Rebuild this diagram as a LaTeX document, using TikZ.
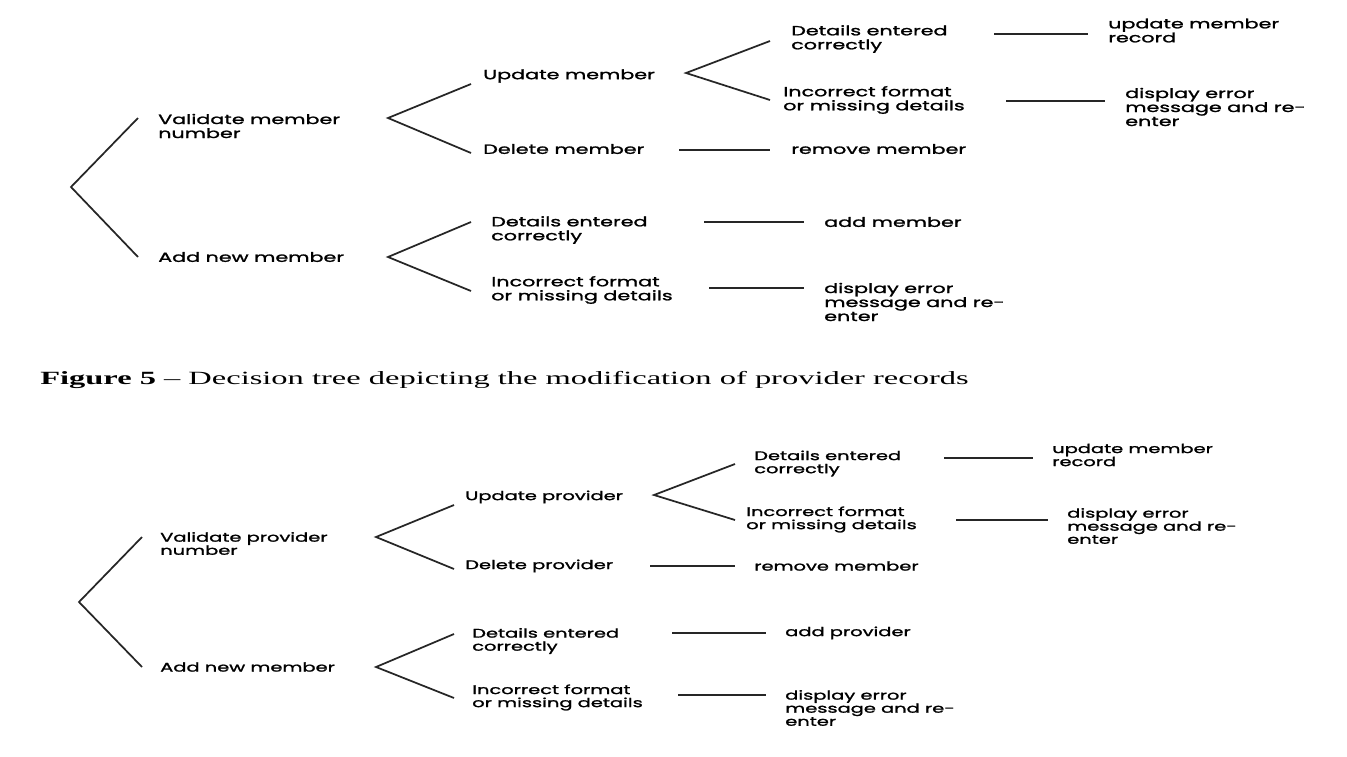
\documentclass[tikz,border=0pt]{standalone}
\usepackage{fontspec}
\setmainfont{Liberation Serif}[FakeStretch=1.74]
\newfontfamily\treefont{Poppins}[FakeStretch=1.55,FakeBold=1.5]
\usetikzlibrary{positioning}
\usetikzlibrary{calc}

\tikzset{
    lbl/.style={anchor=west, align=left, inner sep=0pt, font=\treefont\fontsize{10}{10.5}\selectfont},
    lbls/.style={lbl, font=\treefont\fontsize{9.4}{9.8}\selectfont},
    branch/.style={line width=1.3pt, black!85},
}

\begin{document}
\begin{tikzpicture}[x=0.75pt,y=-0.75pt]
    \fill[white] (0,0) rectangle (1347,757);
    \useasboundingbox (0,0) rectangle (1347,757);

    %member tree
    \node[lbl] (val1) at (158,126) {Validate member\\number};
    \node[lbl] (add1) at (158,257) {Add new member};
    \node[lbl] (upd1) at (483,76) {Update member};
    \node[lbl] (del1) at (483,149) {Delete member};
    \node[lbl] (dok1) at (791,39) {Details entered\\correctly};
    \node[lbl] (inc1) at (783,100) {Incorrect format\\or missing details};
    \node[lbl] (rec1) at (1108,30.5) {update member\\record};
    \node[lbl] (err1) at (1125,107) {display error\\message and re-\\enter};
    \node[lbl] (rem1) at (791,149) {remove member};
    \node[lbl] (dok2) at (491,230) {Details entered\\correctly};
    \node[lbl] (inc2) at (491,290) {Incorrect format\\or missing details};
    \node[lbl] (addm) at (824,222) {add member};
    \node[lbl] (err2) at (824,302) {display error\\message and re-\\enter};
    %forks
    \coordinate (v0) at (71,187);
    \coordinate (v1) at (388,118);
    \coordinate (v2) at (686,73);
    \coordinate (v3) at (388,257);
    \draw[branch] ($(val1.west)+(-20,-8)$) -- (v0) -- ($(add1.west)+(-20,0)$);
    \draw[branch] ($(upd1.west)+(-12,8)$) -- (v1) -- ($(del1.west)+(-12,4)$);
    \draw[branch] ($(dok1.west)+(-21,2)$) -- (v2) -- ($(inc1.west)+(-13,0)$);
    \draw[branch] ($(dok2.west)+(-20,-8)$) -- (v3) -- ($(inc2.west)+(-20,1)$);
    %outcomes
    \draw[branch] ($(dok1.east -| rec1.west)+(-114,-5)$) -- ($(dok1.east -| rec1.west)+(-20,-5)$);
    \draw[branch] ($(inc1.east -| err1.west)+(-119,1)$) -- ($(inc1.east -| err1.west)+(-20,1)$);
    \draw[branch] ($(del1.east -| rem1.west)+(-112,1)$) -- ($(del1.east -| rem1.west)+(-21,1)$);
    \draw[branch] ($(dok2.east -| addm.west)+(-120,-8)$) -- ($(dok2.east -| addm.west)+(-20,-8)$);
    \draw[branch] ($(inc2.east -| err2.west)+(-115,-2)$) -- ($(inc2.east -| err2.west)+(-20,-2)$);

    %caption
    \node[anchor=west, inner sep=0pt, font=\fontsize{14}{16}\selectfont] (cap) at (40,380) {\textbf{Figure 5} – Decision tree depicting the modification of provider records};

    %provider tree
    \node[lbls] (val2) at (160,543.5) {Validate provider\\number};
    \node[lbls] (add3) at (160,667) {Add new member};
    \node[lbls] (upd2) at (465,497) {Update provider};
    \node[lbls] (del2) at (465,566) {Delete provider};
    \node[lbls] (dok3) at (754,463.5) {Details entered\\correctly};
    \node[lbls] (inc3) at (746,519.5) {Incorrect format\\or missing details};
    \node[lbls] (rec2) at (1052,455) {update member\\record};
    \node[lbls] (err3) at (1067,526) {display error\\message and re-\\enter};
    \node[lbls] (rem2) at (754,566) {remove member};
    \node[lbls] (dok4) at (472,641) {Details entered\\correctly};
    \node[lbls] (inc4) at (472,697.5) {Incorrect format\\or missing details};
    \node[lbls] (addp) at (785,633) {add provider};
    \node[lbls] (err4) at (785,708) {display error\\message and re-\\enter};
    %forks
    \coordinate (v4) at (79,602);
    \coordinate (v5) at (376,537);
    \coordinate (v6) at (654,495);
    \coordinate (v7) at (376,667);
    \draw[branch] ($(val2.west)+(-18,-6.5)$) -- (v4) -- ($(add3.west)+(-18,0)$);
    \draw[branch] ($(upd2.west)+(-11,8)$) -- (v5) -- ($(del2.west)+(-11,3)$);
    \draw[branch] ($(dok3.west)+(-19,0.5)$) -- (v6) -- ($(inc3.west)+(-11,0.5)$);
    \draw[branch] ($(dok4.west)+(-18,-7)$) -- (v7) -- ($(inc4.west)+(-18,0.5)$);
    %outcomes
    \draw[branch] ($(dok3.east -| rec2.west)+(-108,-5.5)$) -- ($(dok3.east -| rec2.west)+(-19,-5.5)$);
    \draw[branch] ($(inc3.east -| err3.west)+(-111,0.5)$) -- ($(inc3.east -| err3.west)+(-19,0.5)$);
    \draw[branch] ($(del2.east -| rem2.west)+(-104,0)$) -- ($(del2.east -| rem2.west)+(-19,0)$);
    \draw[branch] ($(dok4.east -| addp.west)+(-113,-8)$) -- ($(dok4.east -| addp.west)+(-19,-8)$);
    \draw[branch] ($(inc4.east -| err4.west)+(-107,-2.5)$) -- ($(inc4.east -| err4.west)+(-19,-2.5)$);
\end{tikzpicture}
\end{document}
